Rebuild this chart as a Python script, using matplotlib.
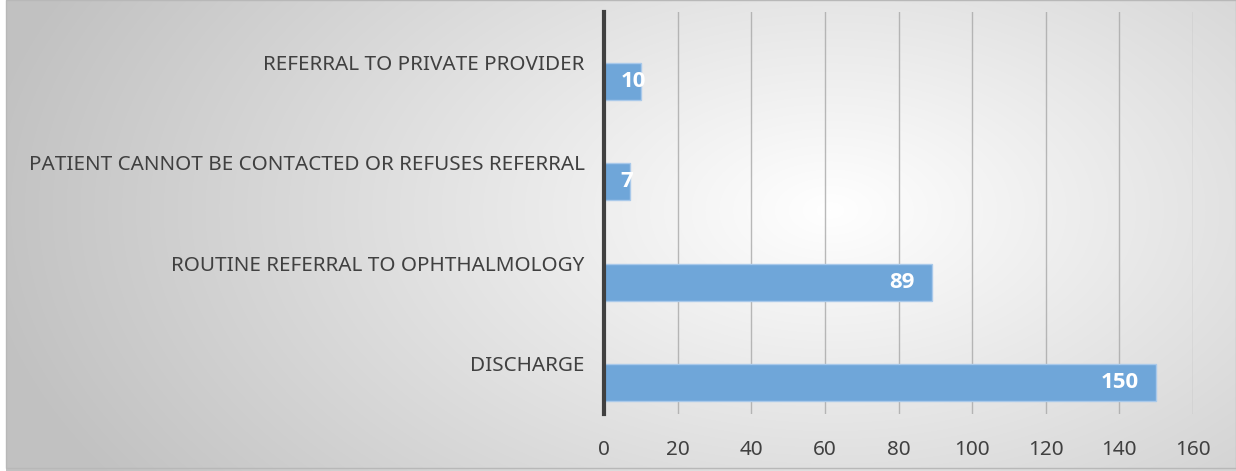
import numpy as np
import matplotlib.pyplot as plt
from matplotlib.patches import Rectangle

# data
categories = ['REFERRAL TO PRIVATE PROVIDER',
              'PATIENT CANNOT BE CONTACTED OR REFUSES REFERRAL',
              'ROUTINE REFERRAL TO OPHTHALMOLOGY',
              'DISCHARGE']
values = [10, 7, 89, 150]
xticks = [0, 20, 40, 60, 80, 100, 120, 140, 160]

plt.rcParams['font.family'] = ['Noto Sans', 'DejaVu Sans']
text_col = '#404040'

W, H = 1236, 471
fig = plt.figure(figsize=(W / 100, H / 100), dpi=100)

# radial grey background
bg = fig.add_axes([0, 0, 1, 1], zorder=0)
yy, xx = np.mgrid[0:H, 0:W]
r = np.sqrt(((xx - 830) / 680.0) ** 2 + ((yy - 210) / 400.0) ** 2)
shade = 1.0 - 0.24 * np.clip(r, 0, 1.25) / 1.25
shade[:, :6] = 1.0
bg.imshow(np.dstack([shade] * 3), aspect='auto', extent=[0, W, H, 0])
bg.add_patch(Rectangle((6, 0), W - 6, H - 3, fill=False, edgecolor='#b8b8b8', lw=1))
bg.set_xlim(0, W)
bg.set_ylim(H, 0)
bg.axis('off')

ax = fig.add_axes([604 / W, (H - 414) / H, (1193 - 604) / W, 402 / H], zorder=1)
ax.patch.set_alpha(0)

ypos = np.arange(len(categories))
bars = ax.barh(ypos + 0.19, values, height=0.37, color='#6fa6d9',
               edgecolor='#a9c9ea', linewidth=1, zorder=3)
for b, v in zip(bars, values):
    yc = b.get_y() + b.get_height() / 2
    if v > 20:
        t = ax.text(v - 4.6, yc, str(v), ha='right', va='center')
    else:
        t = ax.text(4.4, yc, str(v), ha='left', va='center')
    t.set_color('white')
    t.set_fontsize(16)
    t.set_fontfamily(['Open Sans', 'DejaVu Sans'])
    t.set_fontweight('bold')
    t.set_zorder(4)
    t.set_clip_path(b)

ax.set_xlim(0, 160)
ax.set_ylim(3.5, -0.5)
ax.set_xticks(xticks)
ax.set_yticks(ypos)
ax.set_yticklabels(categories)
ax.tick_params(axis='both', length=0, labelsize=14.9, labelcolor=text_col)
ax.tick_params(axis='y', pad=14)
ax.tick_params(axis='x', pad=19)
ax.grid(axis='x', color='#a8a8a8', lw=1, alpha=0.8, zorder=1)
for s in ['top', 'right', 'bottom']:
    ax.spines[s].set_visible(False)
ax.spines['left'].set_color('#404040')
ax.spines['left'].set_linewidth(3)
ax.spines['left'].set_zorder(5)

fig.savefig('out.png', dpi=100)
